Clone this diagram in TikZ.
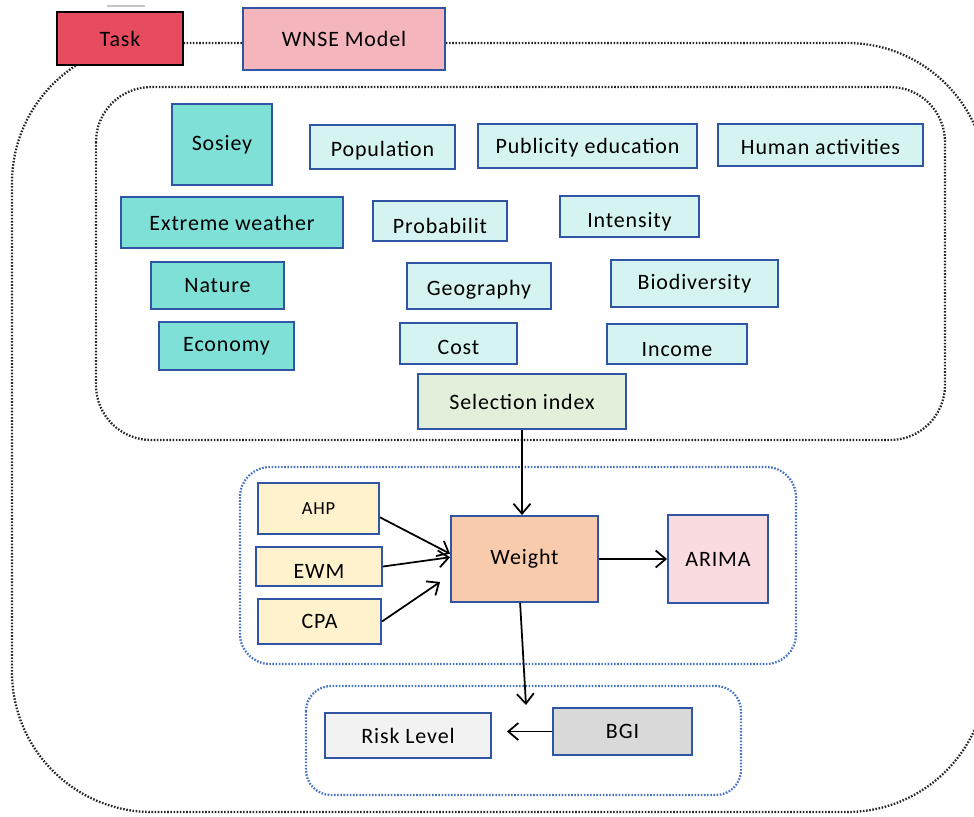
\documentclass[tikz,border=0pt]{standalone}
\usepackage{fontspec}
\setmainfont{Carlito}[LetterSpace=4]
\usepackage{xcolor}
\usepackage{tikz}
\usetikzlibrary{arrows.meta}
\usetikzlibrary{positioning}

\definecolor{boxblue}{HTML}{2F55A4}
\definecolor{dotblue}{HTML}{4472C4}
\definecolor{taskred}{HTML}{E64B5E}
\definecolor{modelpink}{HTML}{F4B5BD}
\definecolor{darkturq}{HTML}{7FE0D8}
\definecolor{lightturq}{HTML}{D5F3F1}
\definecolor{selgreen}{HTML}{E2EFDA}
\definecolor{methyellow}{HTML}{FFF2CC}
\definecolor{weightpeach}{HTML}{F8CBAD}
\definecolor{arimapink}{HTML}{FADBE0}
\definecolor{risklight}{HTML}{F2F2F2}
\definecolor{bgigray}{HTML}{D9D9D9}

\newcommand{\lowtext}[2]{\raisebox{-#1}[\height][\depth]{#2}}

\begin{document}
\begin{tikzpicture}[x=0.02cm,y=-0.02cm,
    font=\fontsize{12.5}{14}\selectfont,
    basebox/.style={draw=boxblue,line width=1.1pt,inner sep=0pt},
    factor/.style={basebox,fill=darkturq},
    indicator/.style={basebox,fill=lightturq},
    method/.style={basebox,fill=methyellow},
    blackdots/.style={black!85,line width=1.3pt,dash pattern=on 0.9pt off 0.9pt},
    bluedots/.style={dotblue,line width=1.3pt,dash pattern=on 0.9pt off 0.9pt},
    flow/.style={-{Straight Barb[length=0.2cm,width=0.34cm]},line width=1pt}]
          \useasboundingbox (0,0) rectangle (974,816);
          \clip (0,0) rectangle (974,816);

          \draw[gray!45,line width=0.6pt] (107,6) -- (145,6);

          \draw[blackdots,rounded corners=2.8cm] (12,43) rectangle (987,812);
          \draw[blackdots,rounded corners=1.1cm] (96,87) rectangle (945,440);
          \draw[bluedots,rounded corners=0.6cm] (240,467) rectangle (796,664);
          \draw[bluedots,rounded corners=0.5cm] (306,686) rectangle (741,795);

          \node[draw=black,line width=1.5pt,fill=taskred,minimum width=2.52cm,minimum height=1.06cm] (task) at (120,38.5) {Task};
          \node[basebox,fill=modelpink,minimum width=4.04cm,minimum height=1.24cm] (wnse) at (344,39) {WNSE Model};

          \node[factor,minimum width=2.0cm,minimum height=1.62cm] (sosiey) at (222,144.5) {Sosiey};
          \node[indicator,minimum width=2.9cm,minimum height=0.88cm] (population) at (382.5,147) {\lowtext{2pt}{Population}};
          \node[indicator,minimum width=4.38cm,minimum height=0.88cm] (publicity) at (587.5,146) {\lowtext{1pt}{Publicity education}};
          \node[indicator,minimum width=4.1cm,minimum height=0.84cm] (human) at (820.5,145) {\lowtext{1pt}{Human activities}};

          \node[factor,minimum width=4.44cm,minimum height=1.02cm] (extreme) at (232,222.5) {Extreme weather};
          \node[indicator,minimum width=2.68cm,minimum height=0.8cm] (probabilit) at (440,221) {\lowtext{3pt}{Probabilit}};
          \node[indicator,minimum width=2.78cm,minimum height=0.82cm] (intensity) at (629.5,216.5) {\lowtext{3pt}{Intensity}};

          \node[factor,minimum width=2.66cm,minimum height=0.94cm] (nature) at (217.5,285.5) {Nature};
          \node[indicator,minimum width=2.88cm,minimum height=0.92cm] (geography) at (479,286) {\lowtext{2pt}{Geography}};
          \node[indicator,minimum width=3.34cm,minimum height=0.94cm] (biodiversity) at (694.5,283.5) {Biodiversity};

          \node[factor,minimum width=2.7cm,minimum height=0.96cm] (economy) at (226.5,346) {Economy};
          \node[indicator,minimum width=2.34cm,minimum height=0.82cm] (cost) at (458.5,343.5) {\lowtext{2pt}{Cost}};
          \node[indicator,minimum width=2.8cm,minimum height=0.8cm] (income) at (677,344) {\lowtext{3pt}{Income}};

          \node[basebox,fill=selgreen,minimum width=4.16cm,minimum height=1.1cm] (selection) at (522,401.5) {Selection index};

          \node[method,minimum width=2.42cm,minimum height=1.02cm,font=\fontsize{10.5}{12}\selectfont] (ahp) at (318.5,508.5) {AHP};
          \node[method,minimum width=2.52cm,minimum height=0.78cm] (ewm) at (319,566.5) {\lowtext{3pt}{EWM}};
          \node[method,minimum width=2.46cm,minimum height=0.9cm] (cpa) at (319.5,621.5) {CPA};
          \node[basebox,fill=weightpeach,minimum width=2.94cm,minimum height=1.72cm] (weight) at (524.5,559) {Weight};
          \node[basebox,fill=arimapink,minimum width=2.0cm,minimum height=1.76cm] (arima) at (718,559) {ARIMA};

          \node[basebox,fill=risklight,minimum width=3.32cm,minimum height=0.9cm] (risk) at (408,735.5) {Risk Level};
          \node[basebox,fill=bgigray,minimum width=2.78cm,minimum height=0.94cm] (bgi) at (622.5,731.5) {BGI};
          \coordinate (drop) at (526,705);

          \draw[flow] (selection.south) -- (selection.south |- weight.north);
          \draw[flow] ([yshift=-5pt]ahp.east) -- ([yshift=3pt]weight.west);
          \draw[flow] (ewm.east) -- ([yshift=1pt]weight.west);
          \draw[flow] (cpa.east) -- ([xshift=-0.2cm,yshift=-0.46cm]weight.west);
          \draw[flow] (weight.east) -- (arima.west);
          \draw[flow] ([xshift=-2.5pt]weight.south) -- (drop);
          \draw[flow] (bgi.west) -- ([xshift=0.3cm]risk.east |- bgi.west);

    \end{tikzpicture}
\end{document}
